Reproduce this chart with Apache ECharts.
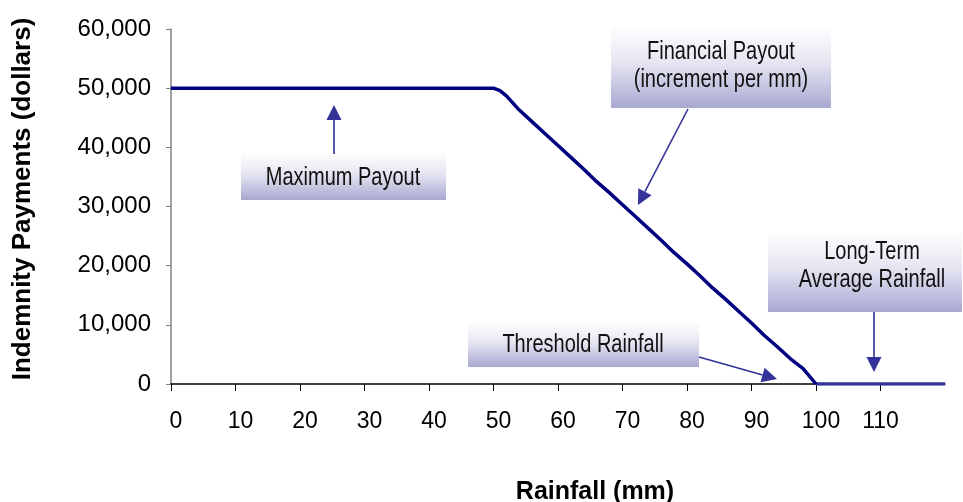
<!DOCTYPE html>
<html>
<head>
<meta charset="utf-8">
<script src="https://cdn.jsdelivr.net/npm/echarts@6/dist/echarts.min.js"></script>
<style>
html,body{margin:0;padding:0;background:#fff;}
#main{width:963px;height:502px;}
</style>
</head>
<body>
<div id="main"></div>
<script>
// ---- data ----
var rainfall = [0, 10, 20, 30, 40, 50, 51, 52, 54, 56, 58, 60, 62, 64, 66, 68, 70, 72, 74, 76, 78, 80, 82, 84, 86, 88, 90, 92, 94, 96, 98, 100];
var payout   = [50000, 50000, 50000, 50000, 50000, 50000, 49600, 48700, 46300, 44300, 42300, 40300, 38300, 36300, 34200, 32300, 30300, 28300, 26300, 24300, 22200, 20300, 18300, 16200, 14300, 12300, 10300, 8200, 6300, 4300, 2600, 0];
var rainfallAbove = [100, 110, 120];
var payoutAbove   = [0, 0, 0];
var xTicks = [0, 10, 20, 30, 40, 50, 60, 70, 80, 90, 100, 110];
var yTicks = [0, 10000, 20000, 30000, 40000, 50000, 60000];
var xTitle = 'Rainfall (mm)';
var yTitle = 'Indemnity Payments (dollars)';
var notes = {
  max: 'Maximum Payout',
  fin: 'Financial Payout\n(increment per mm)',
  thr: 'Threshold Rainfall',
  lta: 'Long-Term\nAverage Rainfall'
};

var REG = '"Liberation Sans",Arial,sans-serif';
var ARROW = '#333399';

function pair(xs, ys){ return xs.map(function(x,i){ return [x, ys[i]]; }); }

function grad(){
  return new echarts.graphic.LinearGradient(0,0,0,1,[
    {offset:0, color:'#ffffff'},
    {offset:0.45, color:'#e6e6f2'},
    {offset:1, color:'#a8a8d2'}
  ]);
}
function box(x,y,w,h){
  return {type:'rect', shape:{x:x,y:y,width:w,height:h}, style:{fill:grad()}, silent:true, z:10};
}
function label(x,y,text){
  return {type:'text', x:x, y:y, z:11, silent:true, scaleX:0.8, scaleY:1,
    style:{text:text, font:'25px '+REG, fill:'#111', align:'center', verticalAlign:'middle', lineHeight:28}};
}
function arrow(x1,y1,x2,y2){
  var dx=x2-x1, dy=y2-y1, L=Math.sqrt(dx*dx+dy*dy), ux=dx/L, uy=dy/L;
  var hl=15, hw=7.5;
  var bx=x2-ux*hl, by=y2-uy*hl;
  return [
    {type:'line', shape:{x1:x1,y1:y1,x2:bx,y2:by}, style:{stroke:ARROW, lineWidth:1.6}, silent:true, z:12},
    {type:'polygon', shape:{points:[[x2,y2],[bx-uy*hw,by+ux*hw],[bx+uy*hw,by-ux*hw]]}, style:{fill:ARROW}, silent:true, z:12}
  ];
}

var chart = echarts.init(document.getElementById('main'), null, {renderer:'canvas'});

var graphics = [
  box(241,152,205,48), label(343,178,notes.max),
  box(611,25,220,83), label(721,66,notes.fin),
  box(468,322,231,45), label(583,345,notes.thr),
  box(768,230,194,82), label(872,266,notes.lta),
  {type:'text', x:595, y:492, silent:true,
    style:{text:xTitle, font:'bold 25px '+REG, fill:'#000', align:'center', verticalAlign:'middle'}},
  {type:'text', x:23, y:199, rotation:Math.PI/2, silent:true,
    style:{text:yTitle, font:'bold 26px '+REG, fill:'#000', align:'center', verticalAlign:'middle'}}
].concat(arrow(334,154,334,105), arrow(688,109,638,205), arrow(699,357,777,379), arrow(874,312,874,372));

chart.setOption({
  animation:false,
  backgroundColor:'#fff',
  grid:{left:171, right:18, top:29, bottom:118, containLabel:false},
  xAxis:{
    type:'value', min:0, max:120, interval:10,
    axisLine:{show:true, onZero:false, lineStyle:{color:'#000', width:1.5}},
    axisTick:{show:true, length:7, lineStyle:{color:'#000', width:1}},
    splitLine:{show:false},
    axisLabel:{
      showMaxLabel:false, margin:26,
      formatter:function(v){ return xTicks.indexOf(v) >= 0 ? (v < 110 ? '{s|'+v+'}' : '{t|'+v+'}') : ''; },
      rich:{
        s:{fontFamily:REG, fontSize:23, color:'#000', padding:[0,0,0,10]},
        t:{fontFamily:REG, fontSize:23, color:'#000'}
      }
    }
  },
  yAxis:{
    type:'value', min:0, max:60000, interval:10000,
    axisLine:{show:true, lineStyle:{color:'#808080', width:1.5}},
    axisTick:{show:true, length:5, lineStyle:{color:'#808080', width:1}},
    splitLine:{show:false},
    axisLabel:{
      margin:20, color:'#000', fontFamily:REG, fontSize:24,
      formatter:function(v){ return yTicks.indexOf(v) >= 0 ? v.toLocaleString('en-US') : ''; }
    }
  },
  series:[
    {type:'line', data:pair(rainfall,payout), symbol:'none', lineStyle:{color:'#000080', width:3.5}, z:5},
    {type:'line', data:pair(rainfallAbove,payoutAbove), symbol:'none', lineStyle:{color:'#333399', width:3.5}, z:4}
  ],
  graphic:graphics
});
</script>
</body>
</html>
